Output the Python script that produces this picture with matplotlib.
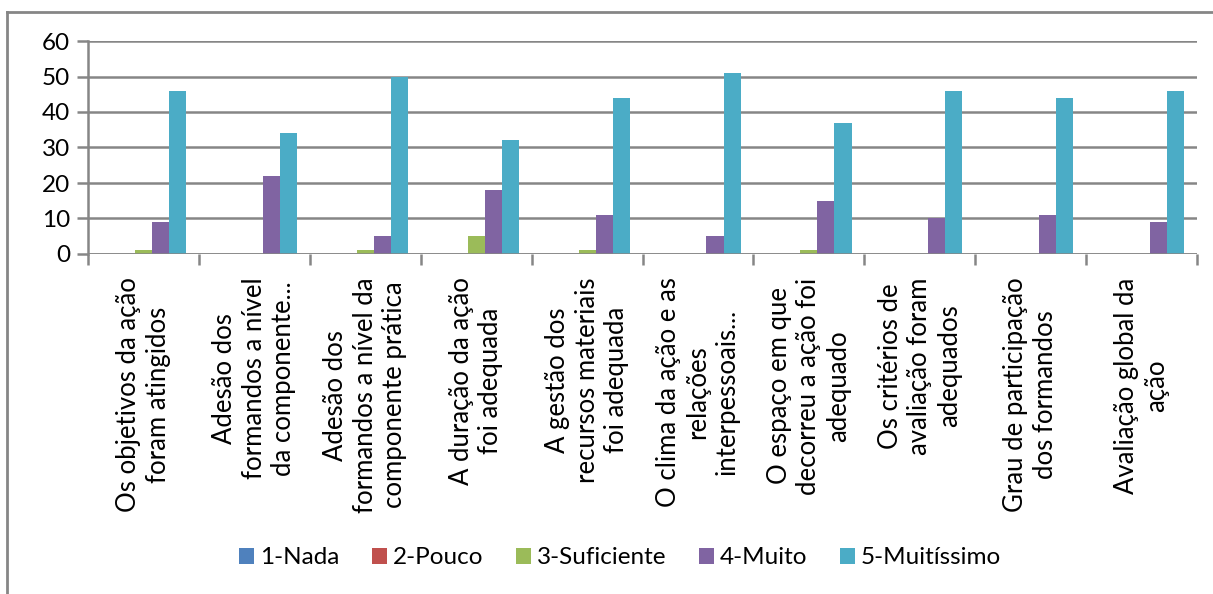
import numpy as np
import matplotlib
matplotlib.use("Agg")
import matplotlib.pyplot as plt
from matplotlib.lines import Line2D
from matplotlib.patches import Patch

categories = [
    "Os objetivos da ação\nforam atingidos",
    "Adesão dos\nformandos a nível\nda componente...",
    "Adesão dos\nformandos a nível da\ncomponente prática",
    "A duração da ação\nfoi adequada",
    "A gestão dos\nrecursos materiais\nfoi adequada",
    "O clima da ação e as\nrelações\ninterpessoais...",
    "O espaço em que\ndecorreu a ação foi\nadequado",
    "Os critérios de\navaliação foram\nadequados",
    "Grau de participação\ndos formandos",
    "Avaliação global da\nação",
]
series_names = ["1-Nada", "2-Pouco", "3-Suficiente", "4-Muito", "5-Muitíssimo"]
nada = [0, 0, 0, 0, 0, 0, 0, 0, 0, 0]
pouco = [0, 0, 0, 0, 0, 0, 0, 0, 0, 0]
suficiente = [1, 0, 1, 5, 1, 0, 1, 0, 0, 0]
muito = [9, 22, 5, 18, 11, 5, 15, 10, 11, 9]
muitissimo = [46, 34, 50, 32, 44, 51, 37, 46, 44, 46]
colors = ["#4F81BD", "#C0504D", "#9BBB59", "#8064A2", "#4BACC6"]

plt.rcParams["font.family"] = ["Lato", "DejaVu Sans"]
W, H = 1213, 594
fig = plt.figure(figsize=(W / 100, H / 100), dpi=100)
ax = fig.add_axes([88 / W, 1 - 254 / H, (1197 - 88) / W, (254 - 41) / H])

grid_c = "#868686"
x = np.arange(len(categories))
bw = 1 / 6.5
for i, vals in enumerate([nada, pouco, suficiente, muito, muitissimo]):
    ax.bar(x + (i - 2) * bw, vals, width=bw, color=colors[i], zorder=3)

ax.set_xlim(-0.5, len(categories) - 0.5)
ax.set_ylim(0, 60)
ax.set_yticks(range(0, 61, 10))
ax.yaxis.grid(True, color=grid_c, linewidth=1.8, zorder=0)
ax.set_axisbelow(True)
for s in ["top", "right", "bottom"]:
    ax.spines[s].set_visible(False)
ax.spines["left"].set_color(grid_c)
ax.spines["left"].set_linewidth(1.8)
ax.axhline(0, color=grid_c, linewidth=1.8, zorder=4)
ax.tick_params(axis="y", length=8, width=1.8, color=grid_c, labelsize=17.5, pad=5)
ax.set_xticks(np.arange(-0.5, len(categories), 1))
ax.set_xticklabels([])
ax.tick_params(axis="x", length=8, width=1.8, color=grid_c, direction="out")

for xi, lab in zip(x, categories):
    ax.text(xi, -6.6, lab, rotation=90, ha="center", va="top",
            multialignment="center", fontsize=18.5, linespacing=1.22,
            clip_on=False)

handles = [Patch(facecolor=c, edgecolor="none") for c in colors]
fig.legend(handles, series_names, loc="center", bbox_to_anchor=(620 / W, 1 - 558 / H),
           ncol=5, frameon=False, fontsize=17.5, handlelength=0.6, handleheight=0.6,
           handletextpad=0.25, columnspacing=1.35)

# outer chart frame
fig.add_artist(Line2D([7 / W, 7 / W], [0, 1 - 12 / H], color=grid_c, linewidth=2,
                      transform=fig.transFigure))
fig.add_artist(Line2D([7 / W, 1], [1 - 12 / H, 1 - 12 / H], color=grid_c, linewidth=2,
                      transform=fig.transFigure))

fig.savefig("out.png", dpi=100)
